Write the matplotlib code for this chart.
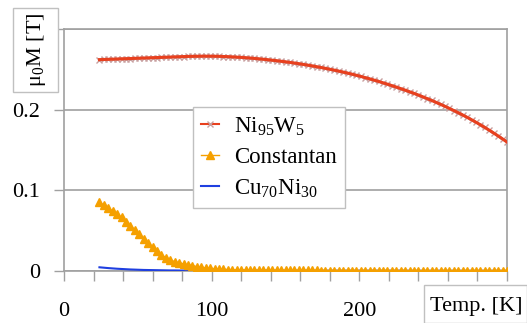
import numpy as np
import matplotlib
matplotlib.use('Agg')
import matplotlib.pyplot as plt
from matplotlib.patches import Rectangle
from matplotlib.ticker import MultipleLocator

plt.rcParams['font.family'] = ['Liberation Serif', 'DejaVu Serif']

# temperature grid (K), one reading every 3 K
temp = np.arange(24, 301, 3)

ni95w5 = [0.2620, 0.2622, 0.2624, 0.2626, 0.2628, 0.2630, 0.2632, 0.2634, 0.2636, 0.2638,
          0.2640, 0.2642, 0.2644, 0.2646, 0.2648, 0.2650, 0.2652, 0.2654, 0.2656, 0.2658,
          0.2660, 0.2661, 0.2662, 0.2663, 0.2663, 0.2663, 0.2662, 0.2661, 0.2659, 0.2657,
          0.2654, 0.2651, 0.2648, 0.2644, 0.2640, 0.2635, 0.2630, 0.2625, 0.2619, 0.2613,
          0.2607, 0.2600, 0.2593, 0.2586, 0.2578, 0.2570, 0.2561, 0.2552, 0.2543, 0.2533,
          0.2523, 0.2512, 0.2501, 0.2490, 0.2478, 0.2466, 0.2453, 0.2440, 0.2426, 0.2412,
          0.2397, 0.2382, 0.2366, 0.2350, 0.2333, 0.2316, 0.2298, 0.2280, 0.2261, 0.2242,
          0.2222, 0.2202, 0.2181, 0.2159, 0.2137, 0.2114, 0.2090, 0.2066, 0.2041, 0.2015,
          0.1989, 0.1962, 0.1934, 0.1905, 0.1875, 0.1844, 0.1812, 0.1779, 0.1745, 0.1710,
          0.1674, 0.1637, 0.1599]

constantan = [0.0850, 0.0815, 0.0779, 0.0742, 0.0704, 0.0664, 0.0613, 0.0561, 0.0508, 0.0455,
              0.0401, 0.0348, 0.0297, 0.0248, 0.0203, 0.0162, 0.0136, 0.0116, 0.0101, 0.0088,
              0.0076, 0.0065, 0.0055, 0.0046, 0.0039, 0.0033, 0.0028, 0.0024, 0.0021, 0.0018,
              0.0016, 0.0014, 0.0012, 0.0011, 0.0010, 0.0009, 0.0008, 0.0008, 0.0007, 0.0007,
              0.0007, 0.0007, 0.0007, 0.0007, 0.0007, 0.0007, 0.0007, 0.0007, 0.0007, 0.0007,
              0.0006, 0.0006, 0.0006, 0.0006, 0.0006, 0.0006, 0.0006, 0.0006, 0.0006, 0.0006,
              0.0006, 0.0006, 0.0006, 0.0006, 0.0006, 0.0006, 0.0006, 0.0006, 0.0006, 0.0006,
              0.0005, 0.0005, 0.0005, 0.0005, 0.0005, 0.0005, 0.0005, 0.0005, 0.0005, 0.0005,
              0.0005, 0.0005, 0.0005, 0.0005, 0.0005, 0.0005, 0.0005, 0.0005, 0.0005, 0.0005,
              0.0005, 0.0005, 0.0005]

cu70ni30 = [0.0046, 0.0041, 0.0036, 0.0032, 0.0028, 0.0025, 0.0022, 0.0019, 0.0017, 0.0015,
            0.0013, 0.0012, 0.0011, 0.0010, 0.0009, 0.0008, 0.0007, 0.0007, 0.0006, 0.0006,
            0.0005, 0.0005, 0.0005, 0.0005, 0.0005, 0.0005, 0.0005, 0.0005, 0.0005, 0.0005,
            0.0005, 0.0005, 0.0005, 0.0005, 0.0005, 0.0005, 0.0005, 0.0005, 0.0005, 0.0005,
            0.0004, 0.0004, 0.0004, 0.0004, 0.0004, 0.0004, 0.0004, 0.0004, 0.0004, 0.0004,
            0.0004, 0.0004, 0.0004, 0.0004, 0.0004, 0.0004, 0.0004, 0.0004, 0.0004, 0.0004,
            0.0004, 0.0004, 0.0004, 0.0004, 0.0004, 0.0004, 0.0004, 0.0004, 0.0004, 0.0004,
            0.0003, 0.0003, 0.0003, 0.0003, 0.0003, 0.0003, 0.0003, 0.0003, 0.0003, 0.0003,
            0.0003, 0.0003, 0.0003, 0.0003, 0.0003, 0.0003, 0.0003, 0.0003, 0.0003, 0.0003,
            0.0003, 0.0003, 0.0003]

yticks = [0, 0.1, 0.2, 0.3]
ytick_labels = ['0', '0.1', '0.2', '']
xtick_labels = ['0', '100', '200', '']

W, H = 527, 323
fig = plt.figure(figsize=(W / 100, H / 100), dpi=100)
ax = fig.add_axes([64 / W, 1 - 271 / H, 443 / W, 242 / H])

grey = '#a0a0a0'
red = '#e8401e'
ax.plot(temp, cu70ni30, color='#1f3fe0', lw=1.5, label=r'Cu$_\mathregular{70}$Ni$_\mathregular{30}$', zorder=3)
ax.plot(temp, constantan, color='#f5a000', lw=1, marker='^', ms=6, mec='#f5a000', mfc='#f5a000',
        label='Constantan', zorder=4)
# Ni95W5: faint grey crosses under a solid red line
ax.plot(temp, ni95w5, color=red, lw=1.5, marker='x', ms=5, mew=1, mec='#c8a0a0',
        label=r'Ni$_\mathregular{95}$W$_\mathregular{5}$', zorder=5)
ax.plot(temp, ni95w5, color=red, lw=2.2, zorder=6)

ax.set_xlim(0, 300)
ax.set_ylim(0, 0.3)
ax.set_xticks([0, 100, 200, 300])
ax.set_xticklabels(xtick_labels)
ax.xaxis.set_minor_locator(MultipleLocator(20))
ax.set_yticks(yticks)
ax.set_yticklabels(ytick_labels)
ax.tick_params(axis='both', which='both', direction='out', length=7, width=1, color=grey, labelsize=16)
ax.tick_params(axis='x', pad=15)
ax.tick_params(axis='y', pad=10)
ax.grid(axis='y', color=grey, lw=1.2)
ax.set_axisbelow(True)
for s in ax.spines.values():
    s.set_color(grey)
    s.set_linewidth(1.2)

handles, labels = ax.get_legend_handles_labels()
order = [2, 1, 0]
leg = fig.legend([handles[i] for i in order], [labels[i] for i in order],
                 loc='upper left', bbox_to_anchor=(193 / W, 1 - 107 / H), fontsize=16.5,
                 frameon=True, fancybox=False, framealpha=1, edgecolor='#c0c0c0',
                 handlelength=0.8, handletextpad=0.65, borderpad=0.35, labelspacing=0.4,
                 borderaxespad=0)
leg.get_frame().set_linewidth(1)

# boxed axis titles
fig.patches.append(Rectangle((13 / W, 1 - 92 / H), 45 / W, 84 / H, transform=fig.transFigure,
                             fc='white', ec='#c0c0c0', lw=1))
fig.text(36 / W, 1 - 50 / H, r'μ$_\mathregular{0}$M [T]', rotation=90, fontsize=16,
         ha='center', va='center')
fig.patches.append(Rectangle((424 / W, 0), 103 / W, 38 / H, transform=fig.transFigure,
                             fc='white', ec='#c0c0c0', lw=1))
fig.text(476 / W, 1 - 307 / H, 'Temp. [K]', fontsize=16, ha='center', va='center')

fig.savefig('out.png', dpi=100)
